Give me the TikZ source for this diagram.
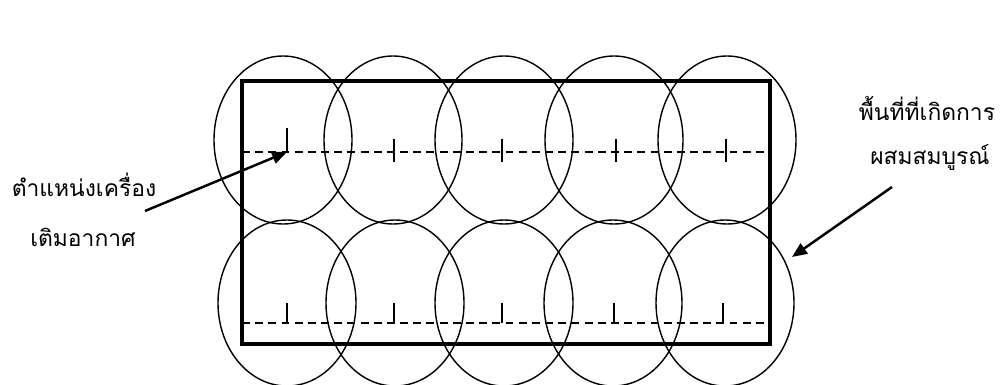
\documentclass[tikz,border=0pt]{standalone}
\usepackage{fontspec}
\newfontfamily\thaifont[Script=Thai]{Loma}
\usetikzlibrary{arrows.meta}
\tikzset{zone/.style={line width=0.8pt},wall/.style={line width=2pt},
 pipe/.style={dash pattern=on 4.5pt off 3pt,line width=0.7pt},
 diffuser/.style={line width=1.2pt},
 pointer/.style={-{Triangle[length=8.5pt,width=7pt]},line width=1.4pt},
 thaitext/.style={font=\thaifont\fontsize{13}{16}\selectfont,inner sep=0pt}}

\begin{document}
\begin{tikzpicture}[x=0.02cm,y=-0.02cm]
\useasboundingbox (0,0) rectangle (1000,385);
\clip (0,0) rectangle (1000,385);
\foreach \x in {283,393,504,614,727}
 \draw[zone] (\x,140) ellipse [x radius=69,y radius=84];
\foreach \x in {287,395,504,613,725}
 \draw[zone] (\x,303) ellipse [x radius=69,y radius=83];
\draw[wall] (242,81) rectangle (770,344);
\draw[pipe] (242,152) -- (770,152);
\draw[pipe] (242,323) -- (770,323);
\draw[diffuser] (287,128) -- (287,152);
\foreach \x in {394,502,616,726}
 \draw[diffuser] (\x,139) -- (\x,162);
\foreach \x in {287,394,502,614,723}
 \draw[diffuser] (\x,303) -- (\x,323);
\node[thaitext] (posA) at (84,185) {ตำแหน่งเครื่อง};
\node[thaitext] (posB) at (83,237) {เติมอากาศ};
\node[thaitext] (zoneA) at (927,108) {พื้นที่ที่เกิดการ};
\node[thaitext] (zoneB) at (930,157) {ผสมสมบูรณ์};
\coordinate (aerStart) at (145,211);
\coordinate (aerTip) at (287,152);
\coordinate (zoneStart) at (892,187);
\coordinate (zoneTip) at (792,257);
\draw[pointer] (aerStart) -- (aerTip);
\draw[pointer] (zoneStart) -- (zoneTip);
\end{tikzpicture}
\end{document}
